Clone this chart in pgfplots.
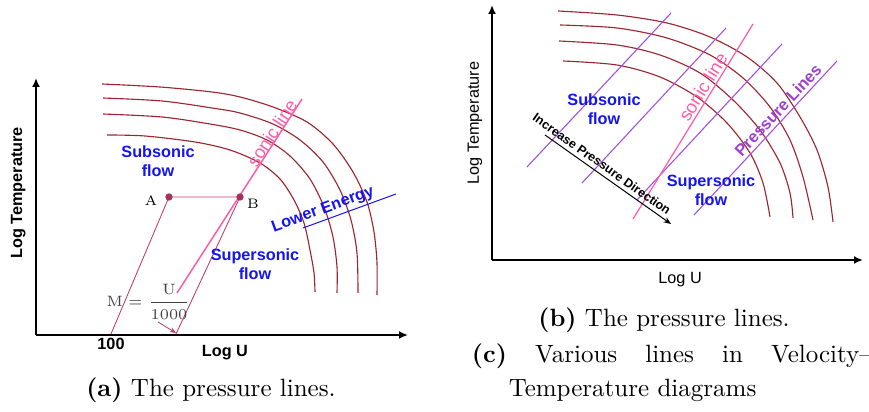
\documentclass[border=0pt]{standalone}
\usepackage{fontspec}
\newfontfamily\arial{Liberation Sans}
\usepackage{pgfplots}
\pgfplotsset{compat=1.18}
\usetikzlibrary{arrows.meta}
\definecolor{arc}{HTML}{9E2530}
\definecolor{prs}{HTML}{A455E0}
\definecolor{sonic}{HTML}{FF5CA8}
\definecolor{flow}{HTML}{1414F0}
\definecolor{ptxt}{HTML}{A040D0}
\definecolor{mline}{HTML}{C04070}
\definecolor{dot}{HTML}{A8305A}
\newcommand\lab{\arial\fontsize{6.5}{7.8}\selectfont}
% one axis unit = one pixel of the 869x412 reference
\pgfplotsset{panel/.style={x=0.4pt,y=0.4pt,axis lines=left,clip=false,
  axis line style={line width=0.8pt,-{Latex[length=3.6pt,width=3.2pt]}},
  ytick=\empty,xtick=\empty,major tick length=0pt}}
\begin{document}
\begin{tikzpicture}
\path[use as bounding box] (0,0) rectangle (347.6pt,164.8pt);
% ---------- panel (a)
\begin{axis}[panel,at={(14.4pt,30.8pt)},anchor=south west,
  xmin=36,xmax=408,ymin=77,ymax=334,
  xtick={111},xticklabels={100},
  xticklabel style={font=\lab\bfseries,inner sep=0pt,yshift=-1.2pt},
  xlabel={Log U},ylabel={Log Temperature},
  x label style={font=\lab\bfseries,at={(axis description cs:0.508,-0.07)},anchor=center},
  y label style={font=\lab\bfseries,at={(axis description cs:-0.048,0.553)},anchor=center}]
\addplot[arc,smooth,line width=0.45pt] coordinates {(102,328)(160,325)(212,320)(240,315)(273,305)(307,290)(333,268)(353,240)(367,210)(374,180)(377,149)(377,117)};
\addplot[arc,smooth,line width=0.45pt] coordinates {(103,314)(162,311)(212,304)(240,299)(273,288)(300,272)(323,250)(340,222)(351,192)(357,159)(358,119)};
\addplot[arc,smooth,line width=0.45pt] coordinates {(103,298)(162,295)(210,288)(240,282)(267,272)(290,256)(310,233)(324,205)(333,175)(337,145)(337,119)};
\addplot[arc,smooth,line width=0.45pt] coordinates {(107,277)(145,276)(195,270)(230,262)(260,249)(280,233)(294,212)(304,189)(310,162)(314,139)(315,120)};
\addplot[sonic,line width=0.6pt] coordinates {(177,119)(302,313)};
\addplot[mline!35,line width=0.5pt] coordinates {(169,215)(240,215)};
\addplot[mline,line width=0.35pt] coordinates {(169,215)(111,78)};
\addplot[mline,line width=0.35pt] coordinates {(240,215)(176,78)};
\addplot[mline,line width=0.35pt,-{Stealth[length=2.5pt,width=2pt]}] coordinates {(158,90)(176,79)};
\addplot[flow,line width=0.4pt] coordinates {(303,184)(396,218)};
\addplot[dot,only marks,mark=*,mark size=1.25pt] coordinates {(169,215)(240,215)};
\node[font=\lab\bfseries,text=flow,align=center] at (158,251) {Subsonic\\flow};
\node[font=\lab\bfseries,text=flow,align=center] at (255,148) {Supersonic\\flow};
\node[font=\arial\fontsize{7.3}{8}\selectfont,text=sonic,rotate=57] at (272,279) {sonic line};
\node[font=\lab\bfseries,text=flow,rotate=20] at (323,202) {Lower Energy};
\node[font=\fontsize{5.5}{6}\selectfont] at (151,211) {A};
\node[font=\fontsize{5.5}{6}\selectfont] at (253,208) {B};
\node[font=\fontsize{6}{7}\selectfont,text=black!75] at (148.5,110) {$\displaystyle \mathrm{M}=\frac{\mathrm{U}}{1000}$};
\node[anchor=base,font=\fontsize{10}{12}\selectfont] at (211,15) {\textbf{(a)} The pressure lines.};
\end{axis}
% ---------- panel (b)
\begin{axis}[panel,at={(196.8pt,60.8pt)},anchor=south west,
  xmin=492,xmax=863,ymin=152,ymax=407,
  xlabel={Log U},ylabel={Log Temperature},
  x label style={font=\lab,at={(axis description cs:0.507,-0.078)},anchor=center},
  y label style={font=\lab,at={(axis description cs:-0.046,0.537)},anchor=center}]
\addplot[arc,smooth,line width=0.45pt] coordinates {(558,401)(617,397)(667,389)(710,375)(747,355)(777,329)(800,295)(817,262)(828,225)(833,190)};
\addplot[arc,smooth,line width=0.45pt] coordinates {(560,387)(617,384)(667,374)(710,357)(743,334)(770,305)(790,272)(803,235)(813,192)};
\addplot[arc,smooth,line width=0.45pt] coordinates {(559,371)(617,367)(660,357)(700,339)(733,312)(760,282)(780,249)(790,219)(793,194)};
\addplot[arc,smooth,line width=0.45pt] coordinates {(563,351)(617,347)(660,335)(697,315)(727,289)(750,259)(763,229)(770,195)};
\addplot[prs,line width=0.45pt] coordinates {(527,245)(671,399)};
\addplot[prs,line width=0.45pt] coordinates {(582,229)(726,384)};
\addplot[prs,line width=0.45pt] coordinates {(637,212)(782,368)};
\addplot[prs,line width=0.45pt] coordinates {(694,197)(837,351)};
\addplot[sonic,line width=0.5pt] coordinates {(633,193)(753,388)};
\addplot[black,line width=0.4pt,-{Stealth[length=3pt,width=2.4pt]}] coordinates {(545,277)(671,188)};
\node[font=\lab\bfseries,text=flow,align=center] at (604,303) {Subsonic\\flow};
\node[font=\lab\bfseries,text=flow,align=center] at (711,222) {Supersonic\\flow};
\node[font=\arial\fontsize{7.3}{8}\selectfont,text=sonic,rotate=58.4] at (703,325) {sonic line};
\node[font=\arial\bfseries\fontsize{6.6}{8}\selectfont,text=ptxt,rotate=47] at (778,302) {Pressure Lines};
\node[font=\arial\bfseries\fontsize{5}{6}\selectfont,rotate=-35.2] at (602,248) {Increase Pressure Direction};
\node[anchor=base,font=\fontsize{10}{12}\selectfont] at (664,85) {\textbf{(b)} The pressure lines.};
\node[anchor=base west,font=\fontsize{10}{12}\selectfont] at (463,49) {\makebox[160pt][s]{\textbf{(c)} Various lines in Velocity--}};
\node[anchor=base west,font=\fontsize{10}{12}\selectfont] at (500,15) {Temperature diagrams};
\end{axis}
\end{tikzpicture}
\end{document}
